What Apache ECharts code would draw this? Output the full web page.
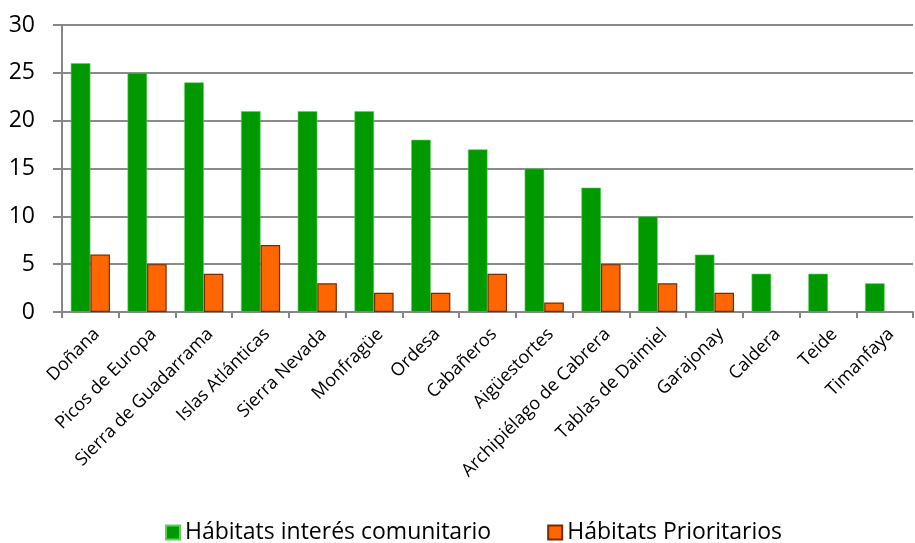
<!DOCTYPE html>
<html>
<head>
<meta charset="utf-8">
<script src="https://cdn.jsdelivr.net/npm/echarts@6/dist/echarts.min.js"></script>
<style>
  html, body { margin: 0; padding: 0; background: #fff; }
  #chart { width: 915px; height: 543px; }
</style>
</head>
<body>
<div id="chart"></div>
<script>
// ----------------------
// DATA
// ----------------------
const parks = [
  "Doñana", "Picos de Europa", "Sierra de Guadarrama", "Islas Atlánticas",
  "Sierra Nevada", "Monfragüe", "Ordesa", "Cabañeros", "Aigüestortes",
  "Archipiélago de Cabrera", "Tablas de Daimiel", "Garajonay", "Caldera",
  "Teide", "Timanfaya"
];
const interesComunitario = [26, 25, 24, 21, 21, 21, 18, 17, 15, 13, 10, 6, 4, 4, 3];
const prioritarios = [6, 5, 4, 7, 3, 2, 2, 4, 1, 5, 3, 2, null, null, null];

const FONT = "'Open Sans', 'Noto Sans', sans-serif";

// ----------------------
// CHART
// ----------------------
const chart = echarts.init(document.getElementById("chart"));

chart.setOption({
  animation: false,
  textStyle: { fontFamily: FONT },
  grid: { left: 62, right: 2, top: 25, bottom: 231 },
  legend: {
    top: 516,
    left: 160,
    itemWidth: 14,
    itemHeight: 14,
    itemGap: 56,
    textStyle: { fontSize: 23, color: "#000", fontFamily: FONT },
    data: [
      { name: "Hábitats interés comunitario", icon: "rect" },
      { name: "Hábitats Prioritarios", icon: "rect" }
    ]
  },
  xAxis: {
    type: "category",
    data: parks,
    axisLine: { lineStyle: { color: "#868686", width: 2 } },
    axisTick: { show: true, length: 6, lineStyle: { color: "#868686", width: 2 } },
    axisLabel: {
      rotate: 45,
      interval: 0,
      fontSize: 18,
      color: "#000",
      margin: 13,
      verticalAlign: "top",
      fontFamily: FONT
    }
  },
  yAxis: {
    type: "value",
    min: 0,
    max: 30,
    interval: 5,
    axisLine: { show: true, lineStyle: { color: "#868686", width: 2 } },
    axisTick: { show: true, length: 9, lineStyle: { color: "#868686", width: 2 } },
    splitLine: { lineStyle: { color: "#8a8a8a", width: 2 } },
    axisLabel: { fontSize: 23, color: "#000", margin: 27, fontFamily: FONT }
  },
  series: [
    {
      name: "Hábitats interés comunitario",
      type: "bar",
      data: interesComunitario,
      barGap: "0%",
      barCategoryGap: "31%",
      itemStyle: { color: "#009900", borderColor: "#5fcf5f", borderWidth: 0.6 }
    },
    {
      name: "Hábitats Prioritarios",
      type: "bar",
      data: prioritarios,
      itemStyle: { color: "#ff6600", borderColor: "#7a2a00", borderWidth: 1.2 }
    }
  ]
});
</script>
</body>
</html>
